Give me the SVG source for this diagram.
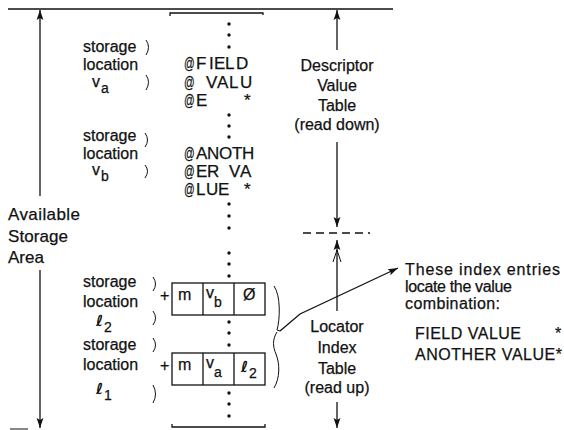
<svg xmlns="http://www.w3.org/2000/svg" width="564" height="430" viewBox="0 0 564 430">
<style>
text{font-family:"Liberation Sans","DejaVu Sans",sans-serif;font-size:16px;fill:#111;stroke:#111;stroke-width:0.25}
.c{text-anchor:middle}
.at{font-size:17px}
.big{font-size:17px}
.ell{font-family:"DejaVu Sans",sans-serif;font-style:italic;font-weight:bold;font-size:15px;stroke:none}
.sub{font-size:14px}
.ln{stroke:#111;stroke-width:1.3;fill:none}
.thin{stroke:#111;stroke-width:1;fill:none}
.dot{fill:#111}
</style>
<defs>
<marker id="ah" viewBox="0 0 10 8" refX="10" refY="4" markerWidth="10" markerHeight="8" markerUnits="userSpaceOnUse" orient="auto-start-reverse">
<path d="M0,0.6 L10,4 L0,7.4 L2,4 z" fill="#111"/>
</marker>
</defs>
<rect width="564" height="430" fill="#fff"/>

<g id="connectors">
<line class="ln" x1="8" y1="9" x2="393" y2="9"/>
<line class="ln" x1="40" y1="10" x2="40" y2="196" marker-start="url(#ah)"/>
<line class="ln" x1="40" y1="270" x2="40" y2="428" marker-end="url(#ah)"/>
<line class="ln" x1="337" y1="10" x2="337" y2="50" marker-start="url(#ah)"/>
<line class="ln" x1="337" y1="142" x2="337" y2="227" marker-end="url(#ah)"/>
<line class="ln" x1="303" y1="233" x2="370" y2="233" stroke-dasharray="8 5"/>
<line class="ln" x1="337" y1="240" x2="337" y2="311" marker-start="url(#ah)"/>
<path d="M333,262 L337,250 L341,262" class="thin"/>
<line class="ln" x1="337" y1="402" x2="337" y2="428" marker-end="url(#ah)"/>
<polyline class="ln" points="280,331 300,314 398,268" marker-end="url(#ah)"/>
<line class="thin" x1="10" y1="429" x2="28" y2="429"/>
</g>

<g id="storage-column">
<path class="ln" d="M170,16 V13 H263 V15"/>
<path class="ln" d="M172,424 V427 H265 V424"/>
<g class="dot">
<circle cx="229" cy="24" r="1.7"/><circle cx="229" cy="35" r="1.7"/><circle cx="229" cy="47" r="1.7"/>
<circle cx="229" cy="115" r="1.7"/><circle cx="229" cy="126" r="1.7"/><circle cx="229" cy="137" r="1.7"/>
<circle cx="229" cy="204" r="1.7"/><circle cx="229" cy="216" r="1.7"/><circle cx="229" cy="228" r="1.7"/>
<circle cx="229" cy="253" r="1.7"/><circle cx="229" cy="264" r="1.7"/><circle cx="229" cy="276" r="1.7"/>
<circle cx="229" cy="322" r="1.7"/><circle cx="229" cy="333" r="1.7"/><circle cx="229" cy="345" r="1.7"/>
<circle cx="229" cy="393" r="1.7"/><circle cx="229" cy="404" r="1.7"/><circle cx="229" cy="416" r="1.7"/>
</g>
</g>

<g id="value-va">
<text class="at" transform="translate(184,69) scale(0.62,1)">@</text>
<text class="at" x="196 209 214 225 236" y="69">FIELD</text>
<text class="at" transform="translate(184,88) scale(0.62,1)">@</text>
<text class="at" x="206 217 229 240" y="88">VALU</text>
<text class="at" transform="translate(184,106) scale(0.62,1)">@</text>
<text class="at" x="196 244" y="106">E*</text>
</g>
<g id="value-vb">
<text class="at" transform="translate(184,159) scale(0.62,1)">@</text>
<text class="at" x="196 207 219 232 242" y="159">ANOTH</text>
<text class="at" transform="translate(184,177) scale(0.62,1)">@</text>
<text class="at" x="196 207 229 240" y="177">ERVA</text>
<text class="at" transform="translate(184,195) scale(0.62,1)">@</text>
<text class="at" x="196 206 218 244" y="195">LUE*</text>
</g>

<g id="label-va">
<text x="83" y="52">storage</text>
<text x="83" y="70">location</text>
<text x="92" y="87">v</text><text class="sub" x="101" y="93">a</text>
<path class="thin" d="M146,40 Q151,47 146,55 M146,75 Q151,82 146,90"/>
</g>
<g id="label-vb">
<text x="83" y="141">storage</text>
<text x="83" y="159">location</text>
<text x="92" y="175">v</text><text class="sub" x="101" y="181">b</text>
<path class="thin" d="M145,133 Q150,140 145,147 M145,165 Q150,171 145,178"/>
</g>

<g id="label-l2">
<text x="83" y="287">storage</text>
<text x="83" y="307">location</text>
<text class="ell" x="96" y="326">ℓ</text><text class="sub" x="104" y="332">2</text>
<path class="thin" d="M153,277 Q158,284 153,291 M153,311 Q158,318 153,325"/>
<text x="160" y="301">+</text>
</g>
<g id="label-l1">
<text x="83" y="350">storage</text>
<text x="83" y="370">location</text>
<text class="ell" x="96" y="394">ℓ</text><text class="sub" x="104" y="400">1</text>
<path class="thin" d="M153,338 Q158,345 153,352 M153,385 Q158,394 153,403"/>
<text x="160" y="371">+</text>
</g>

<g id="entry-l2">
<rect class="ln" x="172" y="283" width="93" height="32"/>
<line class="ln" x1="203" y1="283" x2="203" y2="315"/>
<line class="ln" x1="234" y1="283" x2="234" y2="315"/>
<text x="178" y="300">m</text>
<text x="206" y="298">v</text><text class="sub" x="214" y="307">b</text>
<text x="243" y="300">Ø</text>
</g>
<g id="entry-l1">
<rect class="ln" x="172" y="353" width="93" height="32"/>
<line class="ln" x1="203" y1="353" x2="203" y2="385"/>
<line class="ln" x1="234" y1="353" x2="234" y2="385"/>
<text x="178" y="370">m</text>
<text x="206" y="368">v</text><text class="sub" x="214" y="377">a</text>
<text class="ell" x="241" y="372">ℓ</text><text class="sub" x="249" y="378">2</text>
</g>

<g id="brace">
<path class="thin" d="M274,286 C281,296 280,320 277,330 L280,331 M277,332 C272,340 273,347 276,354 C280,364 280,378 274,388"/>
</g>

<g id="available-storage">
<text class="big" x="8" y="220" textLength="72">Available</text>
<text class="big" x="8" y="242" textLength="60">Storage</text>
<text class="big" x="8" y="263">Area</text>
</g>

<g id="descriptor-table">
<text class="c" x="337" y="71">Descriptor</text>
<text class="c" x="337" y="91">Value</text>
<text class="c" x="337" y="111">Table</text>
<text class="c" x="337" y="130">(read down)</text>
</g>

<g id="locator-table">
<text class="c" x="337" y="332">Locator</text>
<text class="c" x="337" y="353">Index</text>
<text class="c" x="337" y="374">Table</text>
<text class="c" x="337" y="393">(read up)</text>
</g>

<g id="note">
<text x="405" y="275" textLength="155">These index entries</text>
<text x="405" y="292" textLength="107">locate the value</text>
<text x="405" y="309" textLength="95">combination:</text>
<text x="415" y="339" textLength="106">FIELD VALUE</text><text x="555" y="339">*</text>
<text x="415" y="360" textLength="147">ANOTHER VALUE*</text>
</g>
</svg>
